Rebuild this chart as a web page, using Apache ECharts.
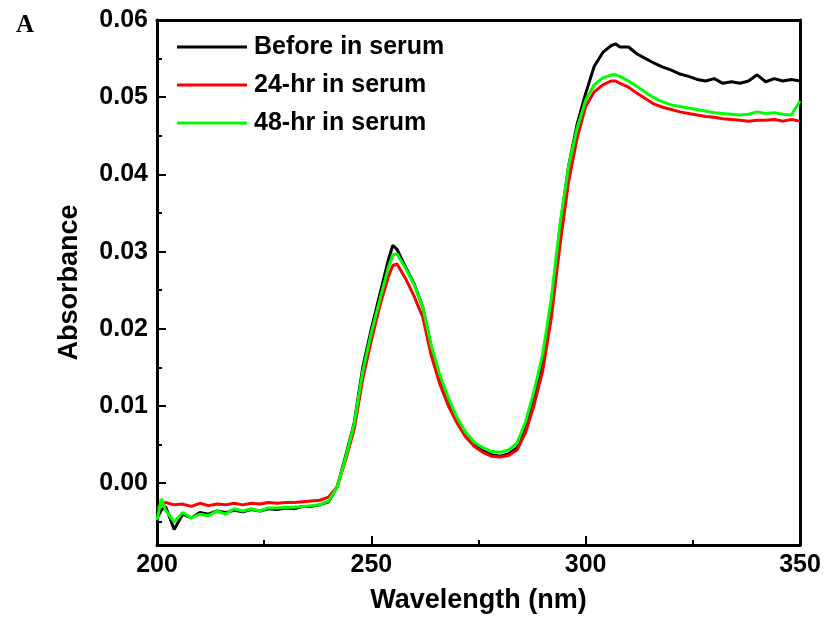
<!DOCTYPE html>
<html>
<head>
<meta charset="utf-8">
<script src="https://cdn.jsdelivr.net/npm/echarts@6/dist/echarts.min.js"></script>
<style>html,body{margin:0;padding:0;background:#fff}#c{width:825px;height:625px}</style>
</head>
<body>
<div id="c"></div>
<script>
const wavelengths = [200,201,202,204,206,208,210,212,214,216,218,220,222,224,226,228,230,232,234,236,238,240,242,244,246,248,250,252,254,255,256,258,260,262,264,266,268,270,272,274,276,278,280,282,284,286,288,290,292,294,296,298,300,302,304,306,307,308,310,312,314,316,318,320,322,324,326,328,330,332,334,336,338,340,342,344,346,348,350];

const beforeSerum = [-0.0045,-0.0035,-0.0030,-0.0060,-0.0040,-0.0045,-0.0038,-0.0040,-0.0036,-0.0038,-0.0035,-0.0037,-0.0034,-0.0036,-0.0033,-0.0034,-0.0032,-0.0033,-0.0030,-0.0030,-0.0028,-0.0024,-0.0005,0.0035,0.0078,0.0150,0.0200,0.0245,0.0290,0.0308,0.0303,0.0280,0.0258,0.0228,0.0175,0.0136,0.0106,0.0082,0.0063,0.0050,0.0042,0.0037,0.0035,0.0038,0.0046,0.0075,0.0115,0.0160,0.0232,0.0330,0.0410,0.0465,0.0505,0.0540,0.0558,0.0567,0.0569,0.0565,0.0565,0.0556,0.0550,0.0544,0.0539,0.0535,0.0530,0.0527,0.0523,0.0521,0.0524,0.0518,0.0520,0.0518,0.0521,0.0529,0.0520,0.0524,0.0521,0.0523,0.0521];

const serum24hr = [-0.0032,-0.0028,-0.0025,-0.0028,-0.0027,-0.0030,-0.0026,-0.0029,-0.0027,-0.0028,-0.0026,-0.0028,-0.0026,-0.0027,-0.0025,-0.0026,-0.0025,-0.0025,-0.0024,-0.0023,-0.0022,-0.0018,-0.0005,0.0030,0.0070,0.0135,0.0185,0.0230,0.0268,0.0282,0.0284,0.0265,0.0242,0.0215,0.0165,0.0128,0.0100,0.0078,0.0060,0.0048,0.0040,0.0035,0.0034,0.0036,0.0043,0.0066,0.0102,0.0146,0.0215,0.0308,0.0390,0.0447,0.0488,0.0507,0.0516,0.0521,0.0521,0.0518,0.0513,0.0505,0.0498,0.0491,0.0487,0.0484,0.0481,0.0479,0.0477,0.0475,0.0474,0.0472,0.0471,0.0470,0.0469,0.0470,0.0470,0.0471,0.0469,0.0471,0.0469];

const serum48hr = [-0.0048,-0.0020,-0.0035,-0.0050,-0.0038,-0.0045,-0.0040,-0.0042,-0.0036,-0.0040,-0.0033,-0.0036,-0.0033,-0.0036,-0.0032,-0.0032,-0.0031,-0.0031,-0.0030,-0.0029,-0.0028,-0.0023,-0.0005,0.0033,0.0077,0.0145,0.0195,0.0238,0.0280,0.0296,0.0297,0.0278,0.0257,0.0228,0.0178,0.0140,0.0110,0.0085,0.0066,0.0053,0.0046,0.0041,0.0040,0.0043,0.0052,0.0080,0.0120,0.0168,0.0240,0.0335,0.0410,0.0460,0.0496,0.0516,0.0525,0.0529,0.0529,0.0527,0.0521,0.0514,0.0506,0.0499,0.0494,0.0490,0.0488,0.0486,0.0484,0.0482,0.0480,0.0479,0.0478,0.0477,0.0478,0.0481,0.0479,0.0480,0.0478,0.0477,0.0495];

const seriesNames = ['Before in serum','24-hr in serum','48-hr in serum'];
const seriesColors = ['#000000','#ff0000','#00ff00'];
const yMajorTicks = [0,0.01,0.02,0.03,0.04,0.05,0.06];
const yMinorTicks = [-0.005,0.005,0.015,0.025,0.035,0.045,0.055];

const FONT = '"Liberation Sans", Arial, sans-serif';
const pair = arr => wavelengths.map((w,i)=>[w,arr[i]]);
const values = [beforeSerum, serum24hr, serum48hr];

const chart = echarts.init(document.getElementById('c'), null, {renderer:'canvas'});
chart.setOption({
  animation:false,
  backgroundColor:'#fff',
  title:{text:'A',left:11,top:8,textStyle:{fontFamily:'"Liberation Serif", serif',fontWeight:'bold',fontSize:25,color:'#000'}},
  grid:{left:157,right:25,top:20,bottom:80},
  legend:{
    orient:'vertical',left:172,top:28,itemWidth:70,itemHeight:3,itemGap:10,icon:'rect',
    data:seriesNames,
    textStyle:{fontFamily:FONT,fontWeight:'bold',fontSize:25,color:'#000',lineHeight:28,padding:[0,0,0,2]}
  },
  xAxis:[{
    type:'value',min:200,max:350,interval:50,position:'bottom',
    name:'Wavelength (nm)',nameLocation:'middle',nameGap:42,
    nameTextStyle:{fontFamily:FONT,fontWeight:'bold',fontSize:27,color:'#000'},
    axisLine:{show:true,onZero:false,lineStyle:{color:'#000',width:3}},
    axisTick:{show:true,inside:true,length:9,lineStyle:{color:'#000',width:2}},
    minorTick:{show:true,splitNumber:2,length:5,lineStyle:{color:'#000',width:2}},
    axisLabel:{fontFamily:FONT,fontWeight:'bold',fontSize:25,color:'#000',margin:8},
    splitLine:{show:false}
  },{
    type:'value',min:200,max:350,position:'top',
    axisLine:{show:true,onZero:false,lineStyle:{color:'#000',width:3}},
    axisTick:{show:false},axisLabel:{show:false},splitLine:{show:false}
  }],
  yAxis:[{
    type:'value',min:-0.008,max:0.06,position:'left',
    name:'Absorbance',nameLocation:'middle',nameGap:74,
    nameTextStyle:{fontFamily:FONT,fontWeight:'bold',fontSize:27,color:'#000'},
    axisLine:{show:true,onZero:false,lineStyle:{color:'#000',width:3}},
    axisTick:{show:true,inside:true,length:9,customValues:yMajorTicks,lineStyle:{color:'#000',width:2}},
    axisLabel:{customValues:yMajorTicks,formatter:v=>v.toFixed(2),fontFamily:FONT,fontWeight:'bold',fontSize:25,color:'#000',margin:9},
    splitLine:{show:false}
  },{
    type:'value',min:-0.008,max:0.06,position:'left',
    axisLine:{show:false,onZero:false},
    axisTick:{show:true,inside:true,length:5,customValues:yMinorTicks,lineStyle:{color:'#000',width:2}},
    axisLabel:{show:false},splitLine:{show:false}
  },{
    type:'value',min:-0.008,max:0.06,position:'right',
    axisLine:{show:true,onZero:false,lineStyle:{color:'#000',width:3}},
    axisTick:{show:false},axisLabel:{show:false},splitLine:{show:false}
  }],
  series: seriesNames.map((n,k)=>({
    name:n,type:'line',xAxisIndex:0,yAxisIndex:0,symbol:'none',showSymbol:false,
    data:pair(values[k]),
    lineStyle:{color:seriesColors[k],width:3},
    itemStyle:{color:seriesColors[k]}
  }))
});
</script>
</body>
</html>
